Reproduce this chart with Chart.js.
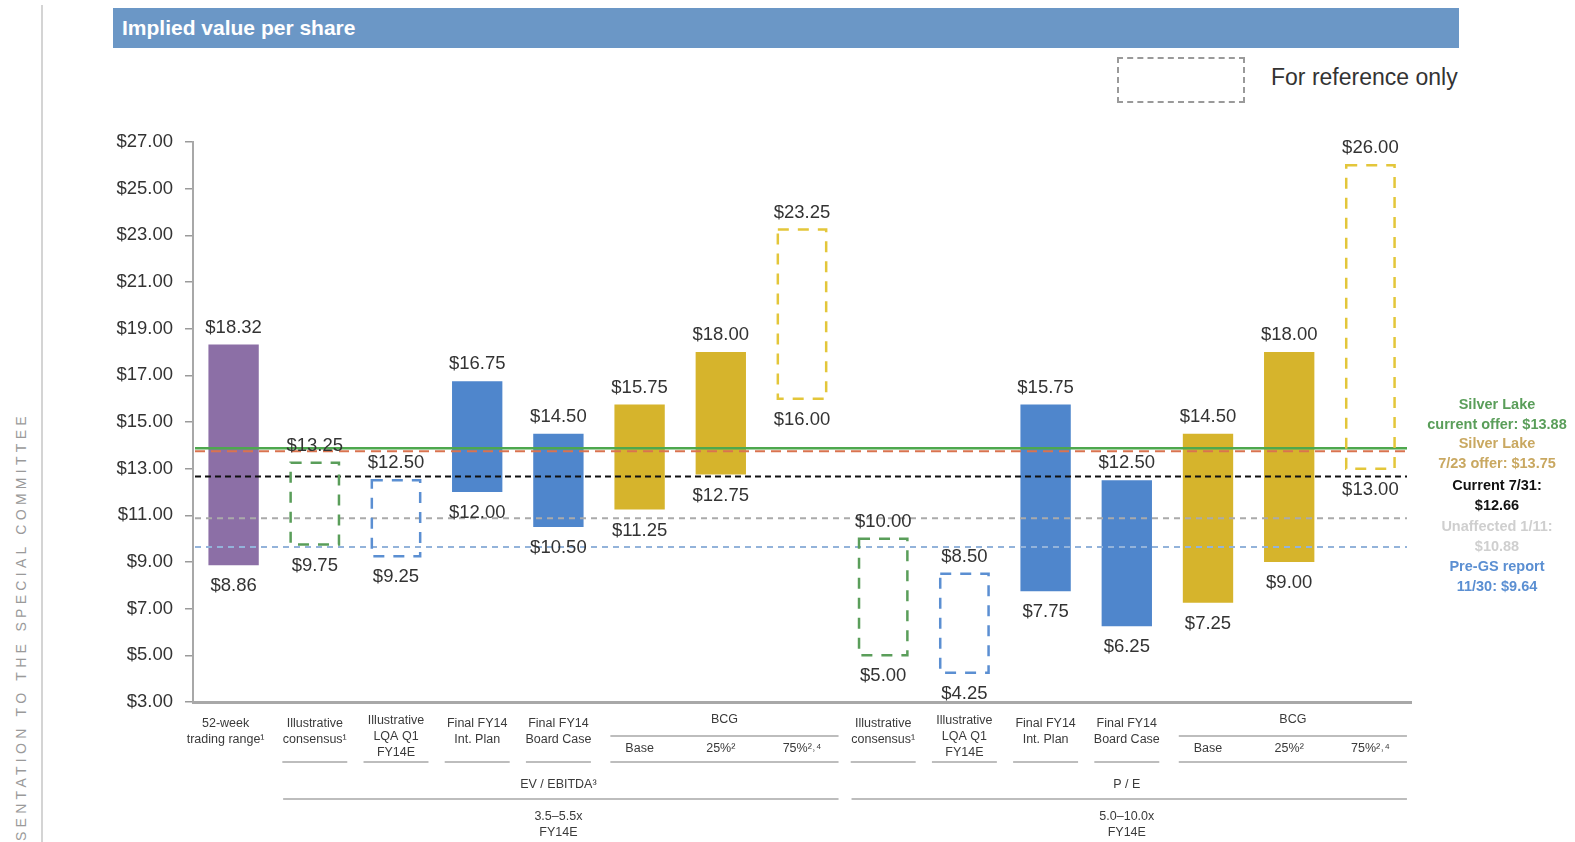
<!DOCTYPE html>
<html>
<head>
<meta charset="utf-8">
<script src="https://cdn.jsdelivr.net/npm/chart.js@4/dist/chart.umd.min.js"></script>
<style>
  html, body { margin: 0; padding: 0; background: #fff; }
  #wrap { position: relative; width: 1575px; height: 842px; overflow: hidden; font-family: "Liberation Sans", Arial, sans-serif; }
  #chartBox { position: absolute; left: 0; top: 0; width: 1575px; height: 842px; }
  .header { position: absolute; left: 113px; top: 8px; width: 1346px; height: 40px; background: #6b97c6; }
  .header span { position: absolute; left: 9px; top: 8px; color: #fff; font-weight: bold; font-size: 21px; }
  .legendBox { position: absolute; left: 1117px; top: 57px; width: 124px; height: 42px; border: 2px dashed #9a9a9a; }
  .legendText { position: absolute; left: 1271px; top: 64px; font-size: 23px; color: #333; }
  .vline { position: absolute; left: 41px; top: 5px; width: 2px; height: 837px; background: #d4d4d4; }
  .vtext { position: absolute; left: 13px; top: 412px; transform-origin: 0 0; transform: rotate(-90deg) translateX(-100%); white-space: nowrap; font-size: 14px; line-height: 16px; letter-spacing: 4.3px; color: #9a9a9a; }
  .note { position: absolute; width: 180px; text-align: center; font-weight: bold; font-size: 14.5px; line-height: 19.5px; left: 1407px; }
</style>
</head>
<body>
<div id="wrap">
  <div class="vline"></div>
  <div class="vtext">PRESENTATION TO THE SPECIAL COMMITTEE</div>
  <div class="header"><span>Implied value per share</span></div>
  <div class="legendBox"></div>
  <div class="legendText">For reference only</div>
  <div id="chartBox"><canvas id="c"></canvas></div>
  <div class="note" style="top:395px; color:#5a9e5a;">Silver Lake<br>current offer: $13.88</div>
  <div class="note" style="top:434px; color:#c9a861;">Silver Lake<br>7/23 offer: $13.75</div>
  <div class="note" style="top:476px; color:#111;">Current 7/31:<br>$12.66</div>
  <div class="note" style="top:517px; color:#cfcfcf;">Unaffected 1/11:<br>$10.88</div>
  <div class="note" style="top:557px; color:#5b8fd2;">Pre-GS report<br>11/30: $9.64</div>
</div>
<script>
// ---- data ----
const categories = [
  '52-week trading range', 'EV/EBITDA Illustrative consensus', 'EV/EBITDA Illustrative LQA Q1 FY14E',
  'EV/EBITDA Final FY14 Int. Plan', 'EV/EBITDA Final FY14 Board Case', 'EV/EBITDA BCG Base',
  'EV/EBITDA BCG 25%', 'EV/EBITDA BCG 75%', 'P/E Illustrative consensus', 'P/E Illustrative LQA Q1 FY14E',
  'P/E Final FY14 Int. Plan', 'P/E Final FY14 Board Case', 'P/E BCG Base', 'P/E BCG 25%', 'P/E BCG 75%'
];
const lowValues  = [8.86, 9.75, 9.25, 12.00, 10.50, 11.25, 12.75, 16.00, 5.00, 4.25, 7.75, 6.25, 7.25, 9.00, 13.00];
const highValues = [18.32, 13.25, 12.50, 16.75, 14.50, 15.75, 18.00, 23.25, 10.00, 8.50, 15.75, 12.50, 14.50, 18.00, 26.00];
const referenceOnly = [false, true, true, false, false, false, false, true, true, true, false, false, false, false, true];
const barColors = ['#8c6fa6', '#5a9e5a', '#5b8fd2', '#4f86cc', '#4f86cc', '#d6b42c', '#d6b42c', '#e3c63a',
                   '#5a9e5a', '#5b8fd2', '#4f86cc', '#4f86cc', '#d6b42c', '#d6b42c', '#e3c63a'];
const refLineValues = [13.88, 13.75, 12.66, 10.88, 9.64];
const refLineColors = ['#4ea84e', '#d9734f', '#111111', '#aaaaaa', '#93b3da'];
const yTickValues = [3, 5, 7, 9, 11, 13, 15, 17, 19, 21, 23, 25, 27];
const catLabelLines = [
  ['52-week', 'trading range\u00b9'], ['Illustrative', 'consensus\u00b9'], ['Illustrative', 'LQA Q1', 'FY14E'],
  ['Final FY14', 'Int. Plan'], ['Final FY14', 'Board Case'], ['Base'], ['25%\u00b2'], ['75%\u00b2\u02d2\u2074'],
  ['Illustrative', 'consensus\u00b9'], ['Illustrative', 'LQA Q1', 'FY14E'],
  ['Final FY14', 'Int. Plan'], ['Final FY14', 'Board Case'], ['Base'], ['25%\u00b2'], ['75%\u00b2\u02d2\u2074']
];
const bcgGroups = [[5, 7], [12, 14]];
const multipleGroups = [
  { from: 1, to: 7, label: 'EV / EBITDA\u00b3', range: '3.5\u20135.5x', period: 'FY14E' },
  { from: 8, to: 14, label: 'P / E', range: '5.0\u201310.0x', period: 'FY14E' }
];

const rangeData = lowValues.map((l, i) => [l, highValues[i]]);
const fmt = v => '$' + v.toFixed(2);

const overlayPlugin = {
  id: 'overlay',
  afterDatasetsDraw(chart) {
    const ctx = chart.ctx;
    const y = chart.scales.y;
    const area = chart.chartArea;
    const meta = chart.getDatasetMeta(0);
    // reference lines
    const dashes = [[], [10, 6], [6, 4], [6, 5], [6, 5]];
    const widths = [2.5, 2, 2, 2, 2];
    refLineValues.forEach((v, i) => {
      const py = y.getPixelForValue(v);
      ctx.save();
      ctx.strokeStyle = refLineColors[i];
      ctx.lineWidth = widths[i];
      ctx.setLineDash(dashes[i]);
      ctx.beginPath();
      ctx.moveTo(area.left + 2, py);
      ctx.lineTo(area.right - 4, py);
      ctx.stroke();
      ctx.restore();
    });
    // dashed reference boxes
    meta.data.forEach((el, i) => {
      if (!referenceOnly[i]) return;
      const p = el.getProps(['x', 'y', 'base', 'width'], true);
      ctx.save();
      ctx.strokeStyle = barColors[i];
      ctx.lineWidth = 2.5;
      ctx.setLineDash([11, 9]);
      ctx.strokeRect(p.x - p.width / 2 + 1, p.y, p.width - 2, p.base - p.y);
      ctx.restore();
    });
    // data labels
    ctx.save();
    ctx.font = '18.5px "Liberation Sans", Arial, sans-serif';
    ctx.fillStyle = '#333';
    ctx.textAlign = 'center';
    ctx.textBaseline = 'middle';
    meta.data.forEach((el, i) => {
      const p = el.getProps(['x', 'y', 'base'], true);
      ctx.fillText(fmt(highValues[i]), p.x, p.y - 17);
      ctx.fillText(fmt(lowValues[i]), p.x, p.base + 21);
    });
    ctx.restore();
  },
  afterDraw(chart) {
    const ctx = chart.ctx;
    const x = chart.scales.x;
    const step = x.getPixelForValue(1) - x.getPixelForValue(0);
    ctx.save();
    ctx.fillStyle = '#3a3a3a';
    ctx.textAlign = 'center';
    ctx.textBaseline = 'middle';
    ctx.font = '12.5px "Liberation Sans", Arial, sans-serif';
    const inBcg = i => bcgGroups.some(g => i >= g[0] && i <= g[1]);
    catLabelLines.forEach((lines, i) => {
      const px = x.getPixelForValue(i) - (i === 0 ? 8 : 0);
      let ys;
      if (lines.length === 3) ys = [721, 737, 753];
      else if (lines.length === 2) ys = [724, 740];
      else ys = [749];
      lines.forEach((t, k) => ctx.fillText(t, px, ys[k]));
      if (i > 0 && !inBcg(i)) {
        ctx.save();
        ctx.strokeStyle = '#bdbdbd';
        ctx.lineWidth = 2;
        ctx.beginPath();
        ctx.moveTo(px - step * 0.4, 762);
        ctx.lineTo(px + step * 0.4, 762);
        ctx.stroke();
        ctx.restore();
      }
    });
    ctx.strokeStyle = '#bdbdbd';
    ctx.lineWidth = 2;
    bcgGroups.forEach(g => {
      const a = x.getPixelForValue(g[0]) - step * 0.36;
      const b = x.getPixelForValue(g[1]) + step * 0.45;
      ctx.fillText('BCG', (a + b) / 2, 720);
      [736, 762].forEach(yy => { ctx.beginPath(); ctx.moveTo(a, yy); ctx.lineTo(b, yy); ctx.stroke(); });
    });
    multipleGroups.forEach(g => {
      const a = x.getPixelForValue(g.from) - step * 0.39;
      const b = x.getPixelForValue(g.to) + step * 0.45;
      const mid = (x.getPixelForValue(g.from) + x.getPixelForValue(g.to)) / 2;
      ctx.fillText(g.label, mid, 785);
      ctx.beginPath(); ctx.moveTo(a, 799); ctx.lineTo(b, 799); ctx.stroke();
      ctx.fillText(g.range, mid, 817);
      ctx.fillText(g.period, mid, 833);
    });
    ctx.restore();
  }
};

new Chart(document.getElementById('c'), {
  type: 'bar',
  data: {
    labels: categories,
    datasets: [{
      data: rangeData,
      backgroundColor: barColors.map((c, i) => referenceOnly[i] ? 'rgba(0,0,0,0)' : c),
      borderWidth: 0,
      borderSkipped: false,
      barPercentage: 0.62,
      categoryPercentage: 1.0
    }]
  },
  options: {
    responsive: true,
    maintainAspectRatio: false,
    animation: false,
    layout: { padding: { left: 0, top: 142, right: 164, bottom: 140 } },
    plugins: { legend: { display: false }, tooltip: { enabled: false } },
    scales: {
      x: {
        afterFit: s => { s.height = 0; },
        ticks: { display: false },
        grid: { display: true, drawOnChartArea: false, drawTicks: false },
        border: { display: true, color: '#a8a8a8', width: 3 }
      },
      y: {
        min: 3, max: 27,
        afterFit: s => { s.width = 193; },
        afterBuildTicks: s => { s.ticks = yTickValues.map(v => ({ value: v })); },
        ticks: {
          callback: v => fmt(v),
          font: { family: '"Liberation Sans", Arial, sans-serif', size: 18.5 },
          color: '#333',
          padding: 12
        },
        grid: { display: true, drawOnChartArea: false, drawTicks: true, tickLength: 8, color: '#9a9a9a', lineWidth: 1.5 },
        border: { display: true, color: '#a8a8a8', width: 2 }
      }
    }
  },
  plugins: [overlayPlugin]
});
</script>
</body>
</html>
